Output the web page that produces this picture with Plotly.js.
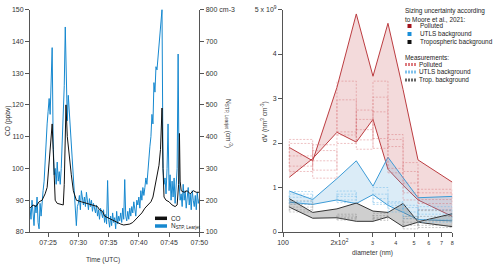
<!DOCTYPE html>
<html><head><meta charset="utf-8">
<script src="https://cdn.plot.ly/plotly-3.0.1.min.js"></script>
<style>html,body{margin:0;padding:0;background:#fff}</style>
</head><body><div id="chart" style="width:500px;height:269px"></div>
<script>
// ---------- Left panel data ----------
const day = '2021-01-01 ';
const nTimes = [
'07:22:00','07:22:10','07:22:20','07:22:30','07:22:40','07:22:50',
'07:23:00','07:23:10','07:23:20','07:23:30','07:23:40','07:23:50',
'07:24:00','07:24:10','07:24:20','07:24:30','07:24:40','07:24:50',
'07:25:00','07:25:10','07:25:20','07:25:30','07:25:40','07:25:50',
'07:26:00','07:26:10','07:26:20','07:26:30','07:26:40','07:26:50',
'07:27:00','07:27:10','07:27:20','07:27:30','07:27:40','07:27:50',
'07:28:00','07:28:10','07:28:20','07:28:30','07:28:40','07:28:50',
'07:29:00','07:29:10','07:29:20','07:29:30','07:29:40','07:29:50',
'07:30:00','07:30:10','07:30:20','07:30:30','07:30:40','07:30:50',
'07:31:00','07:31:10','07:31:20','07:31:30','07:31:40','07:31:50',
'07:32:00','07:32:10','07:32:20','07:32:30','07:32:40','07:32:50',
'07:33:00','07:33:10','07:33:20','07:33:30','07:33:40','07:33:50',
'07:34:00','07:34:10','07:34:20','07:34:30','07:34:40','07:34:50',
'07:35:00','07:35:10','07:35:20','07:35:30','07:35:40','07:35:50',
'07:36:00','07:36:10','07:36:20','07:36:30','07:36:40','07:36:50',
'07:37:00','07:37:10','07:37:20','07:37:30','07:37:40','07:37:50',
'07:38:00','07:38:10','07:38:20','07:38:30','07:38:40','07:38:50',
'07:39:00','07:39:10','07:39:20','07:39:30','07:39:40','07:39:50',
'07:40:00','07:40:10','07:40:20','07:40:30','07:40:40','07:40:50',
'07:41:00','07:41:10','07:41:20','07:41:30','07:41:40','07:41:50',
'07:42:00','07:42:10','07:42:20','07:42:30','07:42:40','07:42:50',
'07:43:00','07:43:10','07:43:20','07:43:30','07:43:40','07:43:50',
'07:44:00','07:44:10','07:44:20','07:44:30','07:44:40','07:44:50',
'07:45:00','07:45:10','07:45:20','07:45:30','07:45:40','07:45:50',
'07:46:00','07:46:10','07:46:20','07:46:30','07:46:40','07:46:50',
'07:47:00','07:47:10','07:47:20','07:47:30','07:47:40','07:47:50',
'07:48:00','07:48:10','07:48:20','07:48:30','07:48:40','07:48:50',
'07:49:00','07:49:10','07:49:20','07:49:30','07:49:40','07:49:50',
'07:50:00'];
const nValues = [
175,140,200,150,120,185,
160,210,130,110,190,150,
200,230,260,330,410,440,
480,520,470,600,680,380,
280,300,250,320,260,290,
250,300,380,450,560,745,
620,450,530,480,400,360,
300,250,210,150,120,180,
190,215,170,230,200,185,
210,180,225,190,170,205,
180,200,165,190,175,160,
185,150,170,140,175,160,
145,170,130,155,125,262,
140,115,150,120,160,130,
145,110,165,125,150,135,
160,130,175,140,265,150,
135,165,140,175,150,180,
160,195,170,150,200,185,
210,175,230,200,240,215,
240,270,250,300,330,370,
400,470,440,570,540,620,
610,650,700,720,770,800,
300,250,270,220,300,440,
230,280,200,260,210,270,
190,240,300,660,250,200,
220,180,250,200,230,175,
210,240,185,220,170,230,
200,180,215,170,225,190,
205];
const coTimes = ['07:22:00','07:22:30','07:23:00','07:23:30','07:24:00','07:24:30','07:24:50','07:25:00','07:25:10','07:25:20','07:25:40','07:25:50','07:26:00','07:26:10','07:26:30','07:27:00','07:27:30','07:27:40','07:27:50','07:27:57','07:28:10','07:28:30','07:28:50','07:29:10','07:29:40','07:30:30','07:31:30','07:32:30','07:33:10','07:33:30','07:34:00','07:34:20','07:34:50','07:35:30','07:36:00','07:36:30','07:37:00','07:37:30','07:38:00','07:38:30','07:39:00','07:39:30','07:40:00','07:40:30','07:41:00','07:41:30','07:42:00','07:42:20','07:42:40','07:43:00','07:43:20','07:43:35','07:43:50','07:44:00','07:44:10','07:44:30','07:45:00','07:45:30','07:46:00','07:46:20','07:46:35','07:46:43','07:46:50','07:47:00','07:47:30','07:48:00','07:48:30','07:49:00','07:49:30','07:50:00'];
const coValues = [87.5,88.5,88,89.5,90,92,94,98,100,104,114,106,95,90,89,88.8,88.5,95,108,120,110,103,98,93,90,89.5,89,88.5,88,87,86.5,85,84.5,84,83.5,83,82.5,82.2,82.3,82.5,83,84,85,86,87.5,88.5,89.5,91,94,97,101,106,119,100,91,90,89.5,88.5,88,88.5,95,111,96,93,92.5,93,92,93,92.5,92.5];
const timeTickLabels = ['07:25','07:30','07:35','07:40','07:45','07:50'];
const coTicks = [80,90,100,110,120,130,140,150];
const nTicks = [100,200,300,400,500,600,700,800];
const nTickText = ['100','200','300','400','500','600','700','800 cm-3'];

// ---------- Right panel data ----------
const diam = [108,144,194,246,302,363,437,525,800];
const pollHi = [1.90,1.60,3.25,4.90,3.50,4.69,3.20,1.62,1.12];
const pollLo = [1.23,1.65,2.24,2.02,2.53,1.41,1.05,0.72,0.35];
const utlsHi = [0.92,0.73,1.20,1.60,1.03,1.68,1.22,0.77,0.80];
const utlsLo = [0.67,0.62,0.72,0.64,0.84,0.60,0.44,0.28,0.25];
const tropHi = [0.75,0.44,0.52,0.65,0.47,0.44,0.64,0.23,0.41];
const tropLo = [0.56,0.31,0.32,0.24,0.24,0.34,0.12,0.22,0.12];
// measurement boxes per bin (bin i spans diam[i]..diam[i+1]): p10, p25, median, p75, p90
const pollP10 = [1.36,1.21,1.99,1.86,1.88,1.33,0.72,0.50];
const pollP25 = [1.48,1.39,2.18,2.07,2.10,1.43,0.88,0.64];
const pollMed = [1.71,1.60,2.25,2.30,2.70,1.92,1.10,0.73];
const pollP75 = [1.99,1.83,2.97,2.53,3.03,2.08,1.36,0.88];
const pollP90 = [2.08,1.96,3.39,2.74,3.39,2.19,1.56,0.96];
const utlsP10 = [0.63,null,0.66,null,0.62,0.45,0.30,0.22];
const utlsP25 = [0.68,null,0.72,null,0.66,0.52,0.35,0.28];
const utlsMed = [0.78,null,0.80,null,0.75,0.60,0.45,0.40];
const utlsP75 = [0.85,null,0.85,null,0.85,0.65,0.55,0.50];
const utlsP90 = [0.91,null,0.92,null,1.00,0.68,0.60,0.57];
const tropP10 = [0.45,null,0.27,null,0.26,null,0.07,0.10];
const tropP25 = [0.50,null,0.30,null,0.30,null,0.15,0.15];
const tropMed = [0.56,null,0.33,null,0.33,null,0.22,0.25];
const tropP75 = [0.62,null,0.36,null,0.37,null,0.30,0.35];
const tropP90 = [0.70,null,0.40,null,0.42,null,0.35,0.48];
const dTickVals = [100,200,300,400,500,600,700,800];
const dTickText = ['100','2x10<sup>2</sup>','<span style="font-size:5.5px">3</span>','<span style="font-size:5.5px">4</span>','<span style="font-size:5.5px">5</span>','<span style="font-size:5.5px">6</span>','<span style="font-size:5.5px">7</span>','<span style="font-size:5.5px">8</span>'];
const dvTicks = [0,1,2,3,4,5];
const dvTickText = ['0','1','2','3','4','5 x 10<sup>9</sup>'];

// ---------- build ----------
const W = 500, H = 269;
const px = x => x / W;
const py = y => 1 - y / H;
const ydom = [py(232), py(9.5)];

function boxPath(p10,p25,med,p75,p90){
  const x=[], y=[];
  for(let i=0;i<diam.length-1;i++){
    if(p10[i]===null) continue;
    const l=diam[i], r=diam[i+1];
    x.push(l,r,r,l,l,null); y.push(p10[i],p10[i],p90[i],p90[i],p10[i],null);
    x.push(l,r,r,l,l,null); y.push(p25[i],p25[i],p75[i],p75[i],p25[i],null);
    x.push(l,r,null); y.push(med[i],med[i],null);
  }
  return {x,y};
}
function band(lo,hi,lineCol,fillCol){
  return [
    {x:diam,y:lo,xaxis:'x2',yaxis:'y3',mode:'lines',line:{color:lineCol,width:1},hoverinfo:'skip'},
    {x:diam,y:hi,xaxis:'x2',yaxis:'y3',mode:'lines',fill:'tonexty',fillcolor:fillCol,line:{color:lineCol,width:1},hoverinfo:'skip'}
  ];
}
function boxTrace(p10,p25,med,p75,p90,col){
  const b=boxPath(p10,p25,med,p75,p90);
  return {x:b.x,y:b.y,xaxis:'x2',yaxis:'y3',mode:'lines',connectgaps:false,line:{color:col,width:0.7,dash:'2px,1.5px'},hoverinfo:'skip'};
}

const traces = [
  {x:nTimes.map(t=>day+t),y:nValues,xaxis:'x',yaxis:'y',mode:'lines',line:{color:'#1688cf',width:1}},
  {x:coTimes.map(t=>day+t),y:coValues,xaxis:'x',yaxis:'y2',mode:'lines',line:{color:'#111',width:1}},
  ...band(pollLo,pollHi,'#bb3c40','rgba(195,70,75,0.2)'),
  ...band(utlsLo,utlsHi,'#3d9bd6','rgba(90,170,220,0.22)'),
  ...band(tropLo,tropHi,'#333333','rgba(110,110,110,0.33)'),
  boxTrace(pollP10,pollP25,pollMed,pollP75,pollP90,'rgba(215,105,110,0.6)'),
  boxTrace(utlsP10,utlsP25,utlsMed,utlsP75,utlsP90,'rgba(110,185,235,0.7)'),
  boxTrace(tropP10,tropP25,tropMed,tropP75,tropP90,'rgba(120,120,120,0.55)')
];

const axBase = {showline:true,linecolor:'#555',linewidth:1,ticks:'outside',ticklen:4,tickwidth:1,tickcolor:'#555',showgrid:false,zeroline:false,tickfont:{size:7,color:'#333'}};
const F = {family:'Liberation Sans, Arial, sans-serif',size:6.6,color:'#333'};
const FL = {family:'Liberation Sans, Arial, sans-serif',size:6.4,color:'#222'};
function ann(text,x,y,opts){ return Object.assign({text:text,x:px(x),y:py(y),xref:'paper',yref:'paper',showarrow:false,font:F,xanchor:'center',yanchor:'middle'},opts||{}); }
const L = {xanchor:'left',font:FL};

const annotations = [
  ann('CO (ppbv)',8,121,{textangle:-90}),
  ann('N<sub>STP, Learjet</sub> (cm<sup>-3</sup>)',229,123,{textangle:90}),
  ann('Time (UTC)',103,260),
  ann('CO',169,218.3,L),
  ann('N<sub>STP, Learjet</sub>',169,226,L),
  ann('dV (nm<sup>3</sup> cm<sup>-3</sup>)',264,122,{textangle:-90}),
  ann('diameter (nm)',372,253),
  ann('Sizing uncertainty according',403,11.5,L),
  ann('to Moore et al., 2021:',403,19,L),
  ann('Polluted',418,26,L),
  ann('UTLS background',418,34,L),
  ann('Tropospheric background',418,42,L),
  ann('Measurements:',403,57,L),
  ann('Polluted',417,64.5,L),
  ann('UTLS background',417,72,L),
  ann('Trop. background',417,80,L)
];
function sq(y,col){ return {type:'rect',xref:'paper',yref:'paper',x0:px(407.5),x1:px(411.5),y0:py(y+2),y1:py(y-2),fillcolor:col,line:{width:0}}; }
function sw(y,col,w,dash){ return {type:'line',xref:'paper',yref:'paper',x0:px(405),x1:px(416),y0:py(y),y1:py(y),line:{color:col,width:w,dash:dash}}; }
const shapes = [
  {type:'line',xref:'paper',yref:'paper',x0:px(155),x1:px(167),y0:py(218.3),y1:py(218.3),line:{color:'#111',width:3.5}},
  {type:'line',xref:'paper',yref:'paper',x0:px(155),x1:px(167),y0:py(226),y1:py(226),line:{color:'#1688cf',width:3.5}},
  sq(26,'#a3141c'), sq(34,'#1a8fd8'), sq(42,'#111'),
  sw(64.5,'#dd7a7e',3,'2px,1px'), sw(72,'#80c2ec',3,'2px,1px'), sw(80,'#666',3,'2px,1px')
];

const layout = {
  width:W,height:H,margin:{l:0,r:0,t:0,b:0},paper_bgcolor:'#fff',plot_bgcolor:'rgba(0,0,0,0)',
  showlegend:false,font:F,
  xaxis:Object.assign({},axBase,{type:'date',domain:[px(30),px(199.3)],anchor:'y',
    range:[day+'07:22:00',day+'07:50:00'],tickvals:timeTickLabels.map(t=>day+t+':00'),ticktext:timeTickLabels}),
  yaxis:Object.assign({},axBase,{domain:ydom,anchor:'x',side:'right',range:[100,800],tickvals:nTicks,ticktext:nTickText}),
  yaxis2:Object.assign({},axBase,{overlaying:'y',anchor:'x',side:'left',range:[80,150],tickvals:coTicks}),
  xaxis2:Object.assign({},axBase,{type:'log',domain:[px(283),px(452.3)],anchor:'y3',range:[2,Math.log10(800)],tickvals:dTickVals,ticktext:dTickText}),
  yaxis3:Object.assign({},axBase,{domain:ydom,anchor:'x2',range:[0,5],tickvals:dvTicks,ticktext:dvTickText}),
  annotations:annotations,shapes:shapes
};
Plotly.newPlot('chart',traces,layout,{displayModeBar:false,staticPlot:true});
</script></body></html>
